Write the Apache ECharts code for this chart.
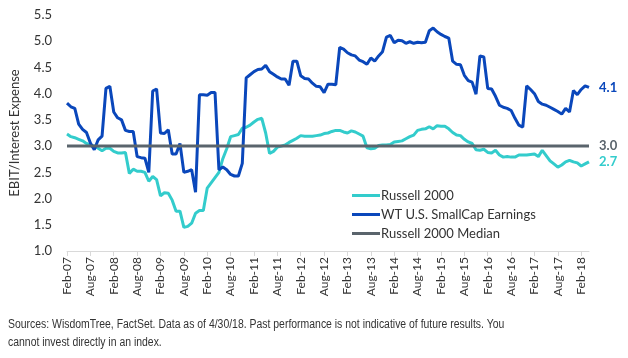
<!DOCTYPE html>
<html>
<head>
<meta charset="utf-8">
<script src="https://cdn.jsdelivr.net/npm/echarts@6/dist/echarts.min.js"></script>
<style>
  html, body { margin: 0; padding: 0; background: #fff; }
  #chart { width: 628px; height: 358px; }
</style>
</head>
<body>
<div id="chart"></div>
<script>
// monthly, Feb-07 .. Apr-18
var startYear = 2007, startMonth = 1, monthCount = 135;
var monthNames = ['Jan', 'Feb', 'Mar', 'Apr', 'May', 'Jun', 'Jul', 'Aug', 'Sep', 'Oct', 'Nov', 'Dec'];

var russell2000 = [
    3.23, 3.18, 3.16, 3.13, 3.10, 3.05, 3.02, 3.00, 2.96, 2.91, 2.96, 2.96,
    2.90, 2.87, 2.87, 2.88, 2.48, 2.56, 2.52, 2.52, 2.50, 2.33, 2.42, 2.36,
    2.05, 2.11, 2.10, 1.97, 1.76, 1.76, 1.45, 1.47, 1.53, 1.72, 1.77, 1.77,
    2.20, 2.30, 2.40, 2.50, 2.76, 2.95, 3.18, 3.20, 3.22, 3.34, 3.36, 3.40,
    3.46, 3.51, 3.53, 3.25, 2.86, 2.90, 2.98, 3.00, 3.02, 3.07, 3.11, 3.15,
    3.20, 3.19, 3.19, 3.19, 3.20, 3.21, 3.24, 3.25, 3.28, 3.30, 3.30, 3.27,
    3.25, 3.29, 3.27, 3.23, 3.19, 2.97, 2.95, 2.96, 3.01, 3.02, 3.02, 3.03,
    3.08, 3.09, 3.10, 3.14, 3.18, 3.21, 3.30, 3.32, 3.33, 3.37, 3.33, 3.39,
    3.38, 3.38, 3.33, 3.26, 3.21, 3.20, 3.13, 3.08, 3.05, 2.93, 2.92, 2.94,
    2.88, 2.87, 2.92, 2.83, 2.79, 2.80, 2.79, 2.79, 2.83, 2.83, 2.83, 2.84,
    2.85, 2.80, 2.92, 2.82, 2.72, 2.66, 2.60, 2.64, 2.70, 2.73, 2.70, 2.68,
    2.62, 2.66, 2.70
];

var wtSmallCap = [
    3.82, 3.75, 3.72, 3.42, 3.32, 3.26, 3.06, 2.93, 3.12, 3.19, 4.10, 4.14,
    3.65, 3.54, 3.50, 3.30, 3.28, 3.28, 2.80, 2.78, 2.77, 2.50, 4.05, 4.09,
    3.25, 3.24, 3.31, 2.85, 2.85, 3.05, 2.50, 2.52, 2.55, 2.12, 3.98, 3.98,
    3.97, 4.02, 4.02, 2.55, 2.60, 2.55, 2.46, 2.43, 2.43, 2.67, 4.30, 4.36,
    4.42, 4.46, 4.47, 4.54, 4.42, 4.37, 4.32, 4.28, 4.28, 4.16, 4.62, 4.62,
    4.34, 4.29, 4.28, 4.20, 4.14, 4.13, 4.02, 4.18, 4.18, 4.17, 4.88, 4.85,
    4.78, 4.74, 4.72, 4.64, 4.61, 4.56, 4.68, 4.62, 4.72, 4.80, 5.08, 5.11,
    4.97, 5.02, 5.01, 4.96, 4.99, 4.96, 4.98, 4.97, 4.98, 5.20, 5.25, 5.18,
    5.13, 5.09, 5.06, 4.62, 4.56, 4.55, 4.35, 4.25, 4.22, 3.99, 4.72, 4.70,
    4.10, 4.09, 3.95, 3.78, 3.74, 3.72, 3.68, 3.53, 3.40, 3.36, 4.15, 4.08,
    4.00, 3.85, 3.80, 3.78, 3.74, 3.70, 3.66, 3.61, 3.72, 3.65, 4.06, 3.98,
    4.08, 4.15, 4.12
];

var russellMedian = 3.0;

var categories = [];
for (var i = 0; i < monthCount; i++) {
    var m = (startMonth + i) % 12;
    var y = startYear + Math.floor((startMonth + i) / 12);
    categories.push(monthNames[m] + '-' + String(y).slice(2));
}
var medianData = categories.map(function () { return russellMedian; });

var chartFont = 'Lato, "Open Sans", sans-serif';

function endLabel(color) {
    return {
        show: true, distance: 10, color: color, fontWeight: 'bold', fontSize: 13,
        formatter: function (p) { return p.value.toFixed(1); }
    };
}

var myChart = echarts.init(document.getElementById('chart'));
var option = {
    animation: false,
    textStyle: {fontFamily: chartFont},
    grid: {left: 63, right: 39, top: 15, bottom: 107},
    legend: {
        orient: 'vertical',
        left: 347,
        top: 184,
        itemWidth: 28,
        itemHeight: 3,
        itemGap: 6,
        icon: 'rect',
        textStyle: {fontSize: 13, color: '#333', fontFamily: chartFont, padding: [0, 0, 0, -4]},
        data: ['Russell 2000', 'WT U.S. SmallCap Earnings', 'Russell 2000 Median']
    },
    xAxis: {
        type: 'category',
        boundaryGap: false,
        data: categories,
        axisLine: {lineStyle: {color: '#d9d9d9', width: 1}},
        axisTick: {interval: 5, length: 5, lineStyle: {color: '#d9d9d9'}},
        axisLabel: {
            interval: 5,
            rotate: 90,
            fontSize: 12,
            color: '#333',
            margin: 6
        }
    },
    yAxis: {
        type: 'value',
        min: 1,
        max: 5.5,
        interval: 0.5,
        name: 'EBIT/Interest Expense',
        nameLocation: 'middle',
        nameGap: 46,
        nameTextStyle: {fontSize: 13, color: '#333'},
        axisLine: {show: false},
        axisTick: {show: false},
        splitLine: {show: false},
        axisLabel: {
            fontSize: 13,
            color: '#333',
            margin: 15,
            formatter: function (v) { return v.toFixed(1); }
        }
    },
    series: [
        {
            name: 'Russell 2000',
            type: 'line',
            data: russell2000,
            symbol: 'none',
            z: 3,
            lineStyle: {color: '#33cccc', width: 3},
            itemStyle: {color: '#33cccc'},
            endLabel: endLabel('#33cccc')
        },
        {
            name: 'WT U.S. SmallCap Earnings',
            type: 'line',
            data: wtSmallCap,
            symbol: 'none',
            z: 4,
            lineStyle: {color: '#0a47bb', width: 3},
            itemStyle: {color: '#0a47bb'},
            endLabel: endLabel('#0a47bb')
        },
        {
            name: 'Russell 2000 Median',
            type: 'line',
            data: medianData,
            symbol: 'none',
            z: 5,
            lineStyle: {color: '#5a646c', width: 3},
            itemStyle: {color: '#5a646c'},
            endLabel: endLabel('#5a646c')
        }
    ],
    graphic: [
        {
            type: 'text',
            x: 8,
            y: 316,
            scaleX: 0.835,
            style: {
                text: 'Sources: WisdomTree, FactSet. Data as of 4/30/18. Past performance is not indicative of future results. You\ncannot invest directly in an index.',
                font: '12.5px "Liberation Sans", Arial, sans-serif',
                fill: '#333',
                lineHeight: 18
            }
        }
    ]
};
myChart.setOption(option);
</script>
</body>
</html>
